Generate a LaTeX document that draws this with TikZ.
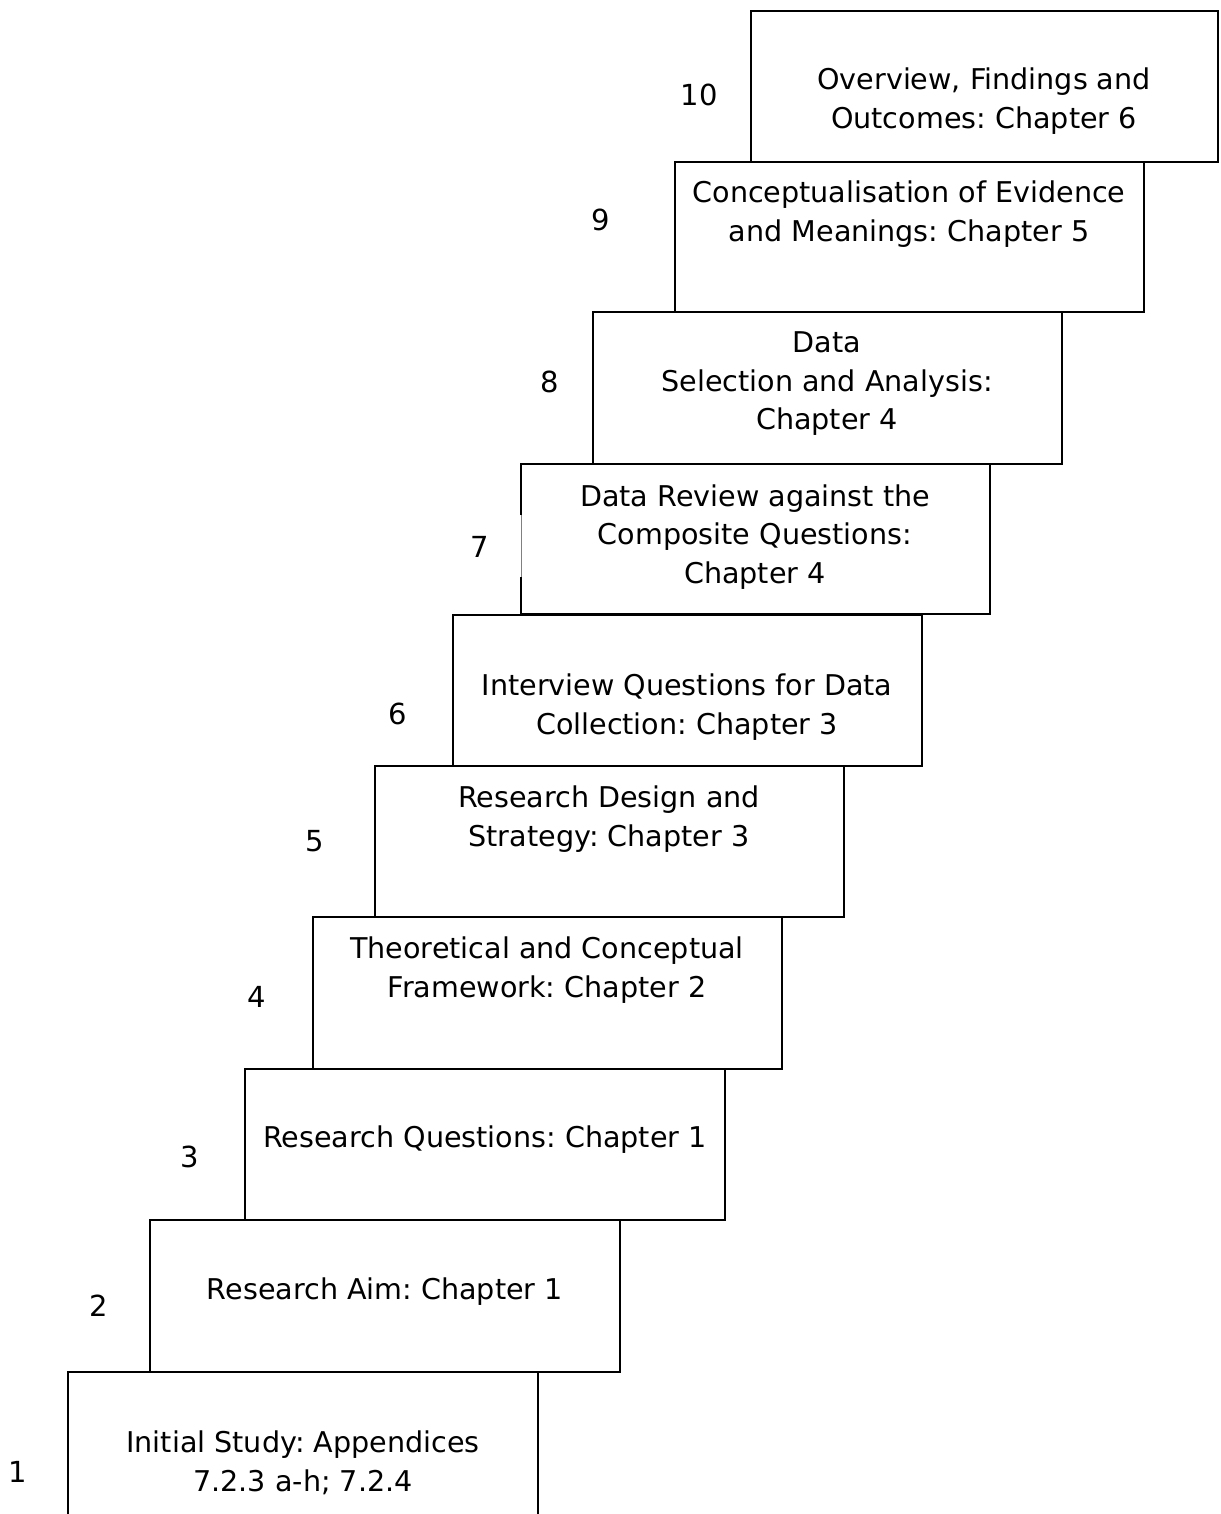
\documentclass[tikz,border=0pt]{standalone}
\usepackage{fontspec}
\setmainfont{DejaVu Sans}
\frenchspacing
\begin{document}
\begin{tikzpicture}[x=1pt,y=-1pt,
  stepbox/.style={draw=black,line width=2.2pt,line join=miter},
  lbl/.style={align=center,inner sep=0pt,font=\fontsize{28.6}{38.5}\selectfont},
  num/.style={inner sep=0pt,font=\fontsize{29}{38.5}\selectfont}]
\useasboundingbox[fill=white] (0,0) rectangle (1220,1514);
% boxes (bottom to top)
\draw[stepbox] (68,1530) -- (68,1372) -- (538,1372) -- (538,1530);
\draw[stepbox] (150,1220) rectangle (620,1372);
\draw[stepbox] (245,1069) rectangle (725,1220);
\draw[stepbox] (313,917) rectangle (782,1069);
\draw[stepbox] (375,766) rectangle (844,917);
\draw[stepbox] (453,615) rectangle (922,766);
\draw[stepbox] (521,515) -- (521,464) -- (990,464) -- (990,614) -- (521,614) -- (521,577);
\draw[gray,line width=0.6pt] (521,515) -- (521,577);
\draw[stepbox] (593,312) rectangle (1062,464);
\draw[stepbox] (675,162) rectangle (1144,312);
\draw[stepbox] (751,11) rectangle (1218,162);
% texts
\node[lbl] (t1) at (303,1463) {Initial Study: Appendices\\7.2.3 a-h; 7.2.4};
\node[lbl] (t2) at (385,1292) {Research Aim: Chapter 1};
\node[lbl] (t3) at (485,1140) {Research Questions: Chapter 1};
\node[lbl] (t4) at (547,970) {Theoretical and Conceptual\\Framework: Chapter 2};
\node[lbl] (t5) at (609,819) {Research Design and\\Strategy: Chapter 3};
\node[lbl] (t6) at (687,707) {Interview Questions for Data\\Collection: Chapter 3};
\node[lbl] (t7) at (755,537) {Data Review against the\\Composite Questions:\\Chapter 4};
\node[lbl] (t8) at (827,384) {Data\\Selection and Analysis:\\Chapter 4};
\node[lbl] (t9) at (909,214) {Conceptualisation of Evidence\\and Meanings: Chapter 5};
\node[lbl] (t10) at (984,101) {Overview, Findings and\\Outcomes: Chapter 6};
% step numbers
\node[num] (n1) at (18,1472) {1};
\node[num] (n2) at (99,1306) {2};
\node[num] (n3) at (190,1157) {3};
\node[num] (n4) at (257,997) {4};
\node[num] (n5) at (315,841) {5};
\node[num] (n6) at (398,714) {6};
\node[num] (n7) at (480,547) {7};
\node[num] (n8) at (550,382) {8};
\node[num] (n9) at (601,220) {9};
\node[num] (n10) at (699,95) {10};
\end{tikzpicture}
\end{document}
